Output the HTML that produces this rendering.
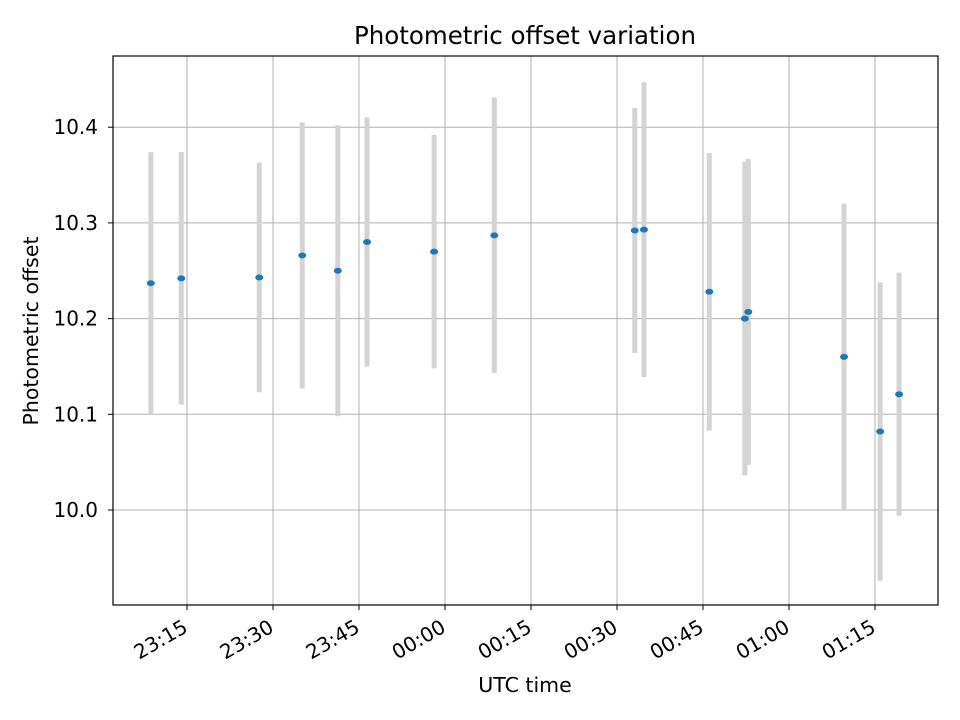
<!DOCTYPE html>
<html><head><meta charset="utf-8"><style>
body{margin:0;background:#fff;}
svg{display:block;font-family:"DejaVu Sans","Liberation Sans",sans-serif;}
</style></head><body>
<svg id="chart" width="960" height="720" viewBox="0 0 960 720" xmlns="http://www.w3.org/2000/svg">
<rect width="960" height="720" fill="#fff"/>
<g id="grid"></g>
<g id="errs"></g>
<g id="pts"></g>
<rect x="113" y="56" width="825" height="549" fill="none" stroke="#000" stroke-width="1.2"/>
<g id="ticks"></g>
<text x="525" y="44" text-anchor="middle" font-size="24.5">Photometric offset variation</text>
<text x="525" y="692" text-anchor="middle" font-size="20.5">UTC time</text>
<text transform="translate(38,331) rotate(-90)" text-anchor="middle" font-size="20.5">Photometric offset</text>
</svg>
<script>
// minutes after 23:00 UTC
const times = [8.7,14.0,27.6,35.1,41.3,46.4,58.1,68.6,93.1,94.7,106.1,112.3,112.9,129.6,135.9,139.2];
const offsets = [10.237,10.242,10.243,10.266,10.250,10.280,10.270,10.287,10.292,10.293,10.228,10.200,10.207,10.160,10.082,10.121];
const errors = [0.137,0.132,0.120,0.139,0.152,0.130,0.122,0.144,0.128,0.154,0.145,0.164,0.160,0.160,0.156,0.127];
const xTickMinutes = [15,30,45,60,75,90,105,120,135];
const xTickLabels = ["23:15","23:30","23:45","00:00","00:15","00:30","00:45","01:00","01:15"];
const yTickValues = [10.0,10.1,10.2,10.3,10.4];
const yTickLabels = ["10.0","10.1","10.2","10.3","10.4"];

const NS="http://www.w3.org/2000/svg";
const L=113,R=938,T=56,B=605;
function xs(m){return 187+(m-15)*(86/15);}
function ys(v){return 510-(v-10.0)*957;}
function mk(tag,attrs,parent){const e=document.createElementNS(NS,tag);for(const k in attrs)e.setAttribute(k,attrs[k]);parent.appendChild(e);return e;}
const grid=document.getElementById('grid'),ticks=document.getElementById('ticks');
const errs=document.getElementById('errs'),pts=document.getElementById('pts');
xTickMinutes.forEach((m,i)=>{
  const x=xs(m);
  const g=mk('line',{x1:x,x2:x,y1:T,y2:B,stroke:'#b0b0b0','stroke-width':1},grid);
  
  
  const t=mk('line',{x1:x,x2:x,y1:B,y2:B+5,stroke:'#000','stroke-width':1},ticks);
  
  
  const ax=x+2, ay=B+26;
  const lb=mk('text',{x:ax,y:ay,'text-anchor':'end','font-size':'20',transform:`rotate(-30 ${ax} ${ay})`},ticks);
  lb.textContent=xTickLabels[i];
  
  
});
yTickValues.forEach((v,i)=>{
  const y=ys(v);
  const g=mk('line',{x1:L,x2:R,y1:y,y2:y,stroke:'#b0b0b0','stroke-width':1},grid);
  
  
  const t=mk('line',{x1:L-5,x2:L,y1:y,y2:y,stroke:'#000','stroke-width':1},ticks);
  
  
  const lb=mk('text',{x:L-15,y:y+7,'text-anchor':'end','font-size':'20'},ticks);
  lb.textContent=yTickLabels[i];
  
  
});
times.forEach((m,i)=>{
  const x=xs(m);
  const e=mk('line',{x1:x,x2:x,y1:ys(offsets[i]+errors[i]),y2:ys(offsets[i]-errors[i]),stroke:'#d3d3d3','stroke-width':5},errs);
  
  
  const p=mk('ellipse',{cx:x,cy:ys(offsets[i]),rx:4,ry:3,fill:'#1f77b4'},pts);
  
  
});
</script>
</body></html>
